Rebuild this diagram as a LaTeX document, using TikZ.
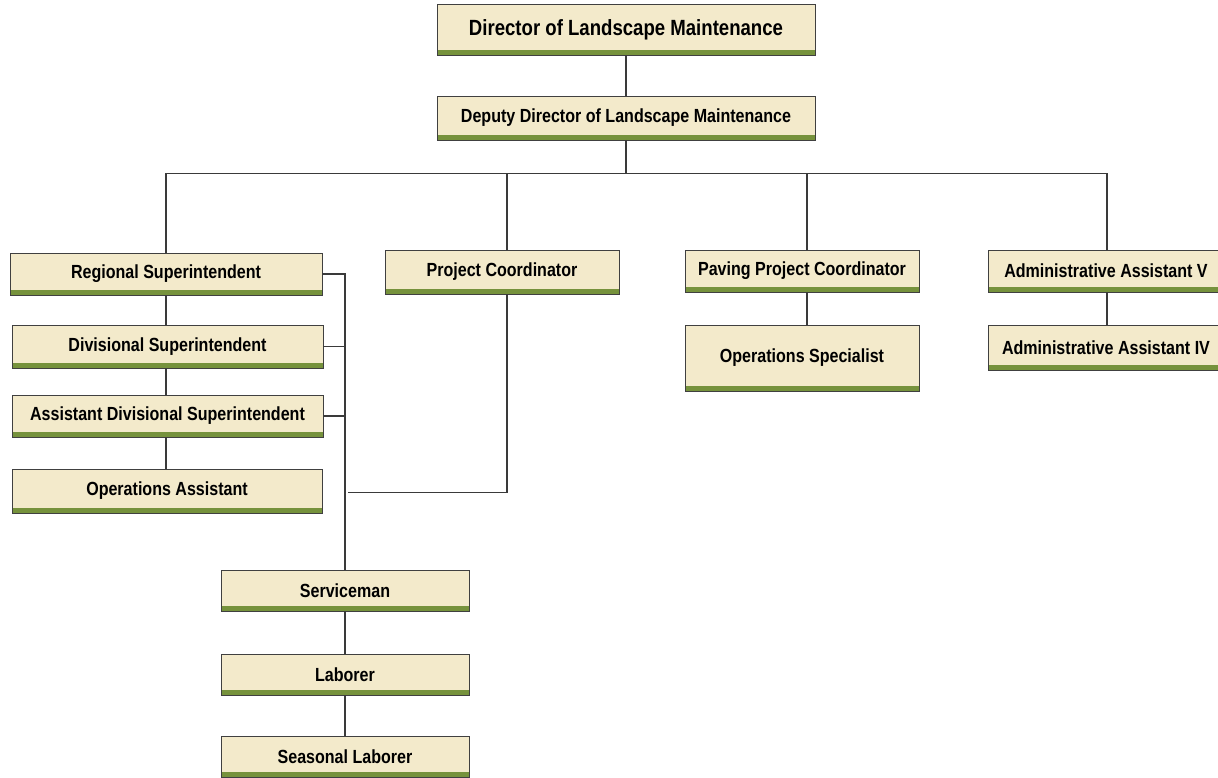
\documentclass[tikz,border=0pt]{standalone}
\usepackage{fontspec}
\newfontfamily\orgfont{Liberation Sans Bold}[FakeStretch=0.845]
\definecolor{cream}{HTML}{F3EACB}
\definecolor{barolive}{HTML}{76923C}
\definecolor{boxline}{HTML}{404040}
\definecolor{wire}{HTML}{3A3A3A}
\tikzset{
  box/.style={draw=boxline, line width=0.9pt, fill=cream, inner sep=0pt, outer sep=0pt,
    anchor=north west, align=center,
    font=\orgfont\fontsize{19}{21}\selectfont,
    path picture={\fill[barolive] (path picture bounding box.south west)
      rectangle ([yshift=5pt]path picture bounding box.south east);}},
  bigbox/.style={box, font=\orgfont\fontsize{22}{24}\selectfont},
  conn/.style={draw=wire, line width=1.1pt}
}
\begin{document}
\begin{tikzpicture}[x=1pt,y=-1pt]
\useasboundingbox (0,0) rectangle (1218,778);

% top of the chart
\node[bigbox, minimum width=378, minimum height=51] (dir) at (437,4) {Director of Landscape Maintenance};
\node[box, minimum width=378, minimum height=44] (dep) at (437,96) {Deputy Director of Landscape Maintenance};

% second level
\node[box, minimum width=312, minimum height=42] (reg)  at (10,253)  {Regional Superintendent};
\node[box, minimum width=234, minimum height=44] (proj) at (385,250) {Project Coordinator};
\node[box, minimum width=234, minimum height=42] (pav)  at (685,250) {Paving Project Coordinator};
\node[box, minimum width=236, minimum height=42] (adv)  at (988,250) {Administrative Assistant V};

% regional branch
\node[box, minimum width=311, minimum height=43] (div)  at (12,325) {Divisional Superintendent};
\node[box, minimum width=311, minimum height=42] (adiv) at (12,395) {Assistant Divisional Superintendent};
\node[box, minimum width=310, minimum height=44] (opa)  at (12,469) {Operations Assistant};

% other branches
\node[box, minimum width=234, minimum height=66] (ops)  at (685,325) {Operations Specialist};
\node[box, minimum width=236, minimum height=45] (adiv4) at (988,325) {Administrative Assistant IV};

% field staff
\node[box, minimum width=248, minimum height=41] (srv) at (221,570) {Serviceman};
\node[box, minimum width=248, minimum height=41] (lab) at (221,654) {Laborer};
\node[box, minimum width=248, minimum height=41] (sea) at (221,736) {Seasonal Laborer};

% bus below the deputy director
\coordinate (busL) at (166,173.5);
\coordinate (busR) at (1107,173.5);
\coordinate (pcend) at (348,492.5);

\draw[conn] (dir.south) -- (dep.north);
\draw[conn] (dep.south) -- (dep.south |- busL);
\draw[conn] (busL) -- (busR);
\draw[conn] (reg.north) -- (reg.north |- busL);
\draw[conn] ([xshift=5]proj.north) -- ([xshift=5]proj.north |- busL);
\draw[conn] ([xshift=5]pav.north) -- ([xshift=5]pav.north |- busL);
\draw[conn] ([xshift=1]adv.north) -- (busR);

% regional chain
\draw[conn] (reg.south) -- (reg.south |- div.north);
\draw[conn] (reg.south |- div.south) -- (reg.south |- adiv.north);
\draw[conn] (reg.south |- adiv.south) -- (reg.south |- opa.north);

% trunk to the field staff
\draw[conn] (reg.east) -| (srv.north);
\draw[conn] (div.east) -- (div.east -| srv.north);
\draw[conn] (adiv.east) -- (adiv.east -| srv.north);
\draw[conn] ([xshift=5]proj.south) |- (pcend);
\draw[conn] (srv.south) -- (lab.north);
\draw[conn] (lab.south) -- (sea.north);

% right-hand branches
\draw[conn] ([xshift=5]pav.south) -- ([xshift=5]ops.north);
\draw[conn] ([xshift=1]adv.south) -- ([xshift=1]adiv4.north);
\end{tikzpicture}
\end{document}
